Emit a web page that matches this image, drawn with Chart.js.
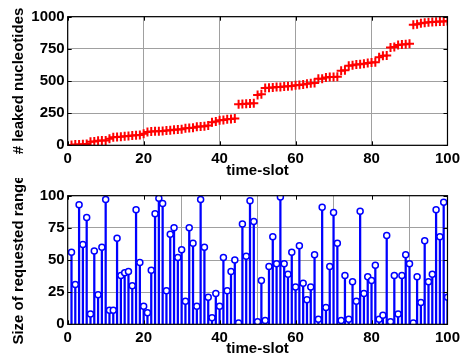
<!DOCTYPE html>
<html>
<head>
<meta charset="utf-8">
<script src="https://cdn.jsdelivr.net/npm/chart.js@4"></script>
<style>
  html, body { margin: 0; padding: 0; background: #fff; overflow: hidden; }
  #wrap { position: relative; width: 465px; height: 356px; }
  canvas { position: absolute; left: 0; }
  #top { top: 0; }
  #bottom { top: 178px; }
</style>
</head>
<body>
<div id="wrap">
  <canvas id="bottom" width="465" height="182"></canvas>
  <canvas id="top" width="465" height="190"></canvas>
</div>
<script>
// time slots 1..100
const timeSlots = [
  1, 2, 3, 4, 5, 6, 7, 8, 9, 10, 11, 12, 13, 14, 15, 16, 17, 18, 19, 20,
  21, 22, 23, 24, 25, 26, 27, 28, 29, 30, 31, 32, 33, 34, 35, 36, 37, 38, 39, 40,
  41, 42, 43, 44, 45, 46, 47, 48, 49, 50, 51, 52, 53, 54, 55, 56, 57, 58, 59, 60,
  61, 62, 63, 64, 65, 66, 67, 68, 69, 70, 71, 72, 73, 74, 75, 76, 77, 78, 79, 80,
  81, 82, 83, 84, 85, 86, 87, 88, 89, 90, 91, 92, 93, 94, 95, 96, 97, 98, 99, 100
];

// cumulative leaked nucleotides (top panel)
const leaked = [
  2, 6, 7, 9, 11, 27, 29, 35, 37, 38,
  50, 62, 64, 67, 70, 73, 77, 78, 81, 90,
  104, 107, 109, 110, 111, 116, 118, 120, 123, 125,
  132, 134, 136, 145, 146, 148, 154, 180, 185, 194,
  197, 202, 205, 208, 320, 322, 324, 325, 327, 392,
  396, 445, 448, 450, 453, 454, 457, 460, 462, 466,
  468, 472, 479, 483, 485, 517, 518, 528, 531, 532,
  534, 580, 583, 618, 622, 629, 630, 635, 639, 643,
  646, 684, 697, 699, 761, 764, 780, 783, 785, 790,
  938, 942, 950, 952, 956, 959, 960, 962, 963, 967
];

// size of requested range (bottom panel)
const rangeSize = [
  56, 31, 93, 62, 83, 8, 57, 23, 60, 97,
  11, 11, 67, 38, 40, 41, 30, 89, 48, 14,
  9, 42, 86, 98, 94, 26, 70, 75, 52, 58,
  18, 75, 63, 14, 97, 60, 21, 5, 24, 14,
  52, 26, 41, 50, 1, 78, 53, 96, 80, 2,
  34, 3, 45, 68, 47, 99, 47, 39, 56, 29,
  61, 32, 19, 29, 54, 4, 91, 13, 45, 87,
  63, 3, 38, 4, 33, 18, 88, 24, 37, 34,
  46, 4, 7, 69, 2, 38, 8, 38, 54, 47,
  1, 37, 17, 65, 33, 39, 89, 68, 95, 21
];

const xTicks = [0, 20, 40, 60, 80, 100];
const topYTicks = [0, 250, 500, 750, 1000];
const bottomYTicks = [0, 25, 50, 75, 100];

const fontFamily = '"Liberation Sans", Arial, Helvetica, sans-serif';
const tickFont = { family: fontFamily, size: 15, weight: 'bold' };
const titleFont = { family: fontFamily, size: 15, weight: 'bold' };

// matlab style box with inward ticks
const boxPlugin = {
  id: 'matlabBox',
  afterDraw(chart) {
    const { ctx, chartArea: a, scales } = chart;
    ctx.save();
    ctx.strokeStyle = '#000';
    ctx.lineWidth = 1;
    ctx.beginPath();
    scales.x.ticks.forEach(t => {
      const px = Math.round(scales.x.getPixelForValue(t.value)) + 0.5;
      ctx.moveTo(px, a.bottom); ctx.lineTo(px, a.bottom - 4);
      ctx.moveTo(px, a.top); ctx.lineTo(px, a.top + 4);
    });
    scales.y.ticks.forEach(t => {
      const py = Math.round(scales.y.getPixelForValue(t.value)) + 0.5;
      ctx.moveTo(a.left, py); ctx.lineTo(a.left + 4, py);
      ctx.moveTo(a.right, py); ctx.lineTo(a.right - 4, py);
    });
    ctx.stroke();
    ctx.lineWidth = 1.2;
    ctx.strokeRect(a.left, a.top, a.right - a.left, a.bottom - a.top);
    ctx.restore();
  }
};

function axes(yTickList, yTitle, xHeight) {
  return {
    x: {
      type: 'linear', min: 0, max: 100, offset: false,
      afterBuildTicks: s => { s.ticks = xTicks.map(v => ({ value: v })); },
      afterFit: s => { s.height = xHeight; },
      ticks: { font: tickFont, color: '#000', padding: 5, maxRotation: 0, callback: v => String(v) },
      grid: { color: '#a0a0a0', borderDash: [1, 2], drawTicks: false, lineWidth: 1 },
      border: { display: false },
      title: { display: true, text: 'time-slot', font: titleFont, color: '#000', padding: 0 }
    },
    y: {
      type: 'linear', min: 0, max: yTickList[yTickList.length - 1],
      afterBuildTicks: s => { s.ticks = yTickList.map(v => ({ value: v })); },
      afterFit: s => { s.width = 67.7; },
      ticks: { font: tickFont, color: '#000', padding: 3, callback: v => String(v) },
      grid: { color: '#a0a0a0', borderDash: [1, 2], drawTicks: false, lineWidth: 1 },
      border: { display: false },
      title: { display: true, text: yTitle, font: titleFont, color: '#000', padding: { top: 10, bottom: 0 } }
    }
  };
}

new Chart(document.getElementById('top'), {
  type: 'scatter',
  data: {
    datasets: [{
      data: timeSlots.map((t, i) => ({ x: t, y: leaked[i] })),
      pointStyle: 'cross',
      pointRadius: 4.5,
      borderColor: '#ff0000',
      borderWidth: 2,
      showLine: false
    }]
  },
  options: {
    responsive: false,
    animation: false,
    devicePixelRatio: 1,
    layout: { padding: { top: 16.7, right: 13.3, bottom: 9.7, left: 0 } },
    scales: axes(topYTicks, '# leaked nucleotides', 35),
    plugins: { legend: { display: false }, tooltip: { enabled: false } }
  },
  plugins: [boxPlugin]
});

new Chart(document.getElementById('bottom'), {
  type: 'bar',
  data: {
    datasets: [
      {
        type: 'scatter',
        order: 0,
        data: timeSlots.map((t, i) => ({ x: t, y: rangeSize[i] })),
        pointStyle: 'circle',
        pointRadius: 3,
        borderColor: '#0000ff',
        backgroundColor: '#ffffff',
        borderWidth: 1.5,
        showLine: false
      },
      {
        type: 'bar',
        order: 1,
        data: timeSlots.map((t, i) => ({ x: t, y: rangeSize[i] })),
        backgroundColor: '#0000ff',
        barThickness: 1.6,
        borderWidth: 0
      }
    ]
  },
  options: {
    responsive: false,
    animation: false,
    devicePixelRatio: 1,
    layout: { padding: { top: 17.7, right: 13.3, bottom: 1.7, left: 0 } },
    scales: axes(bottomYTicks, 'Size of requested range', 34),
    plugins: { legend: { display: false }, tooltip: { enabled: false } }
  },
  plugins: [boxPlugin]
});
</script>
</body>
</html>
